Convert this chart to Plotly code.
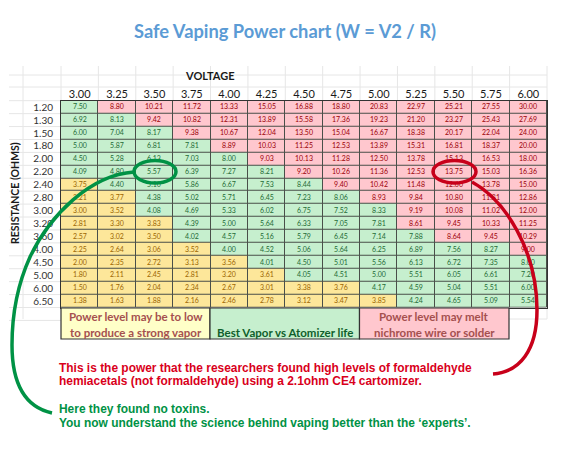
import plotly.graph_objects as go

W, H = 571, 451

voltages = ['3.00', '3.25', '3.50', '3.75', '4.00', '4.25', '4.50', '4.75', '5.00', '5.25', '5.50', '5.75', '6.00']
resistances = ['1.20', '1.30', '1.50', '1.80', '2.00', '2.20', '2.40', '2.80', '3.00', '3.20', '3.60', '4.00', '4.50', '5.00', '6.00', '6.50']

watts = [
    [7.50, 8.80, 10.21, 11.72, 13.33, 15.05, 16.88, 18.80, 20.83, 22.97, 25.21, 27.55, 30.00],
    [6.92, 8.13, 9.42, 10.82, 12.31, 13.89, 15.58, 17.36, 19.23, 21.20, 23.27, 25.43, 27.69],
    [6.00, 7.04, 8.17, 9.38, 10.67, 12.04, 13.50, 15.04, 16.67, 18.38, 20.17, 22.04, 24.00],
    [5.00, 5.87, 6.81, 7.81, 8.89, 10.03, 11.25, 12.53, 13.89, 15.31, 16.81, 18.37, 20.00],
    [4.50, 5.28, 6.13, 7.03, 8.00, 9.03, 10.13, 11.28, 12.50, 13.78, 15.13, 16.53, 18.00],
    [4.09, 4.80, 5.57, 6.39, 7.27, 8.21, 9.20, 10.26, 11.36, 12.53, 13.75, 15.03, 16.36],
    [3.75, 4.40, 5.10, 5.86, 6.67, 7.53, 8.44, 9.40, 10.42, 11.48, 12.60, 13.78, 15.00],
    [3.21, 3.77, 4.38, 5.02, 5.71, 6.45, 7.23, 8.06, 8.93, 9.84, 10.80, 11.81, 12.86],
    [3.00, 3.52, 4.08, 4.69, 5.33, 6.02, 6.75, 7.52, 8.33, 9.19, 10.08, 11.02, 12.00],
    [2.81, 3.30, 3.83, 4.39, 5.00, 5.64, 6.33, 7.05, 7.81, 8.61, 9.45, 10.33, 11.25],
    [2.57, 3.02, 3.50, 4.02, 4.57, 5.16, 5.79, 6.45, 7.14, 7.88, 8.64, 9.45, 10.29],
    [2.25, 2.64, 3.06, 3.52, 4.00, 4.52, 5.06, 5.64, 6.25, 6.89, 7.56, 8.27, 9.00],
    [2.00, 2.35, 2.72, 3.13, 3.56, 4.01, 4.50, 5.01, 5.56, 6.13, 6.72, 7.35, 8.00],
    [1.80, 2.11, 2.45, 2.81, 3.20, 3.61, 4.05, 4.51, 5.00, 5.51, 6.05, 6.61, 7.20],
    [1.50, 1.76, 2.04, 2.34, 2.67, 3.01, 3.38, 3.76, 4.17, 4.59, 5.04, 5.51, 6.00],
    [1.38, 1.63, 1.88, 2.16, 2.46, 2.78, 3.12, 3.47, 3.85, 4.24, 4.65, 5.09, 5.54],
]

LOW_LIMIT = 3.9
HIGH_LIMIT = 8.5

# (zone test, cell fill, text colour)
zones = [
    (lambda v: v < LOW_LIMIT, '#fde79a', '#9c6500'),
    (lambda v: LOW_LIMIT <= v < HIGH_LIMIT, '#c6efce', '#1f6b35'),
    (lambda v: v >= HIGH_LIMIT, '#ffc7ce', '#9c0006'),
]

GREEN = '#009245'
RED = '#d9001b'
DARK_RED = '#c8001a'


def px(x):
    return x / W


def py(y):
    return 1 - y / H


fig = go.Figure()

for test, fill, ink in zones:
    z = [[v if test(v) else None for v in row] for row in watts]
    fig.add_trace(go.Heatmap(
        x=voltages, y=resistances, z=z,
        colorscale=[[0, fill], [1, fill]], showscale=False,
        xgap=1, ygap=1, hoverongaps=False,
        texttemplate='%{z:.2f}',
        textfont=dict(family='Lato', size=7, color=ink),
    ))

shapes = []


def line(x0, y0, x1, y1, color='#e6e6e6', width=1):
    shapes.append(dict(type='line', xref='paper', yref='paper', layer='below',
                       x0=px(x0), y0=py(y0), x1=px(x1), y1=py(y1),
                       line=dict(color=color, width=width)))


def box(x0, y0, x1, y1, fill):
    shapes.append(dict(type='rect', xref='paper', yref='paper',
                       x0=px(x0), y0=py(y0), x1=px(x1), y1=py(y1),
                       fillcolor=fill, line=dict(color='#333333', width=1.2)))


def curve(d, color):
    shapes.append(dict(type='path', xref='paper', yref='paper', path=d,
                       line=dict(color=color, width=3.5)))


def to_paper(*pts):
    return [f'{px(x):.5f},{py(y):.5f}' for x, y in pts]


# spreadsheet grid behind the table
col_w = (547 - 61) / 13
row_h = (307.5 - 100.7) / 16
for i in range(14):
    line(61 + i * col_w, 66, 61 + i * col_w, 100)
line(23, 66, 23, 319)
line(9, 75, 547, 75)
line(9, 87, 547, 87)
for i in range(18):
    line(9, 100.7 + i * row_h, 61, 100.7 + i * row_h)
line(509, 319, 547, 319)
line(547, 307, 547, 319)

# legend strip under the table
box(61, 308, 210, 339, '#ffffc8')
box(210, 308, 359.5, 339, '#c6efce')
box(359.5, 308, 509, 339, '#ffc7ce')

# hand drawn circles and arrows
shapes.append(dict(type='circle', xref='paper', yref='paper',
                   x0=px(134), x1=px(176), y0=py(160.5), y1=py(183),
                   line=dict(color=GREEN, width=3.5)))
shapes.append(dict(type='circle', xref='paper', yref='paper',
                   x0=px(433), x1=px(476), y0=py(160.5), y1=py(183),
                   line=dict(color=DARK_RED, width=3.5)))
g = to_paper((134, 172), (90, 175), (50, 215), (30, 257), (15, 290), (12, 320), (12, 345), (12, 385), (25, 407), (52, 413))
curve(f'M{g[0]} C{g[1]} {g[2]} {g[3]} C{g[4]} {g[5]} {g[6]} C{g[7]} {g[8]} {g[9]}', GREEN)
r = to_paper((472, 182), (505, 200), (537, 250), (537, 310), (537, 350), (520, 372), (493, 374))
curve(f'M{r[0]} C{r[1]} {r[2]} {r[3]} C{r[4]} {r[5]} {r[6]}', DARK_RED)

notes = [
    ('Safe Vaping Power chart (W = V2 / R)', 285, 31, 'center', 18.3, '#5b9bd5', 'Lato'),
    ('VOLTAGE', 210, 76, 'center', 11, '#1a1a1a', 'Lato'),
    ('Power level may be to low', 136, 316, 'center', 11.5, '#a5504f', 'Lato'),
    ('to produce a strong vapor', 136, 332, 'center', 11.5, '#a5504f', 'Lato'),
    ('Best Vapor vs Atomizer life', 285, 332, 'center', 11.5, '#0f5f2b', 'Lato'),
    ('Power level may melt', 434, 316, 'center', 11.5, '#a5504f', 'Lato'),
    ('nichrome wire or solder', 434, 332, 'center', 11.5, '#a5504f', 'Lato'),
    ('This is the power that the researchers found high levels of formaldehyde', 57, 368, 'left', 11.95, RED, 'Liberation Sans'),
    ('hemiacetals (not formaldehyde) using a 2.1ohm CE4 cartomizer.', 57, 381, 'left', 11.95, RED, 'Liberation Sans'),
    ('Here they found no toxins.', 57, 409, 'left', 11.95, GREEN, 'Liberation Sans'),
    ('You now understand the science behind vaping better than the ‘experts’.', 57, 423, 'left', 11.95, GREEN, 'Liberation Sans'),
]

annotations = []
for text, x, y, anchor, size, color, family in notes:
    annotations.append(dict(
        text=f'<b>{text}</b>',
        xref='paper', yref='paper', x=px(x), y=py(y),
        xanchor=anchor, yanchor='middle', showarrow=False,
        font=dict(family=family, size=size, color=color),
    ))
annotations.append(dict(
    text='<b>RESISTANCE (OHMS)</b>', xref='paper', yref='paper', x=px(15), y=py(193),
    xanchor='center', yanchor='middle', showarrow=False, textangle=-90,
    font=dict(family='Lato', size=10.5, color='#1a1a1a'),
))

fig.update_layout(
    width=W, height=H,
    margin=dict(l=0, r=0, t=0, b=0),
    paper_bgcolor='white',
    plot_bgcolor='#4a4f4a',
    showlegend=False,
    shapes=shapes,
    annotations=annotations,
    xaxis=dict(
        type='category', side='top', domain=[px(61), px(547)], anchor='y',
        showgrid=False, zeroline=False, ticks='', ticklabelstandoff=-3,
        tickfont=dict(family='Lato', size=11, color='#1a1a1a'),
        showline=True, mirror=True, linecolor='#333333', linewidth=1,
    ),
    yaxis=dict(
        type='category', autorange='reversed', domain=[py(307.5), py(100.7)], anchor='x',
        tickmode='array', tickvals=resistances, ticktext=resistances,
        showgrid=False, zeroline=False, ticks='', ticklabelstandoff=5,
        tickfont=dict(family='Lato', size=10, color='#333333'),
        showline=True, mirror=True, linecolor='#333333', linewidth=1,
    ),
)

fig.write_html("out.html", config=dict(displayModeBar=False),
               post_script="document.body.style.margin='0';")
